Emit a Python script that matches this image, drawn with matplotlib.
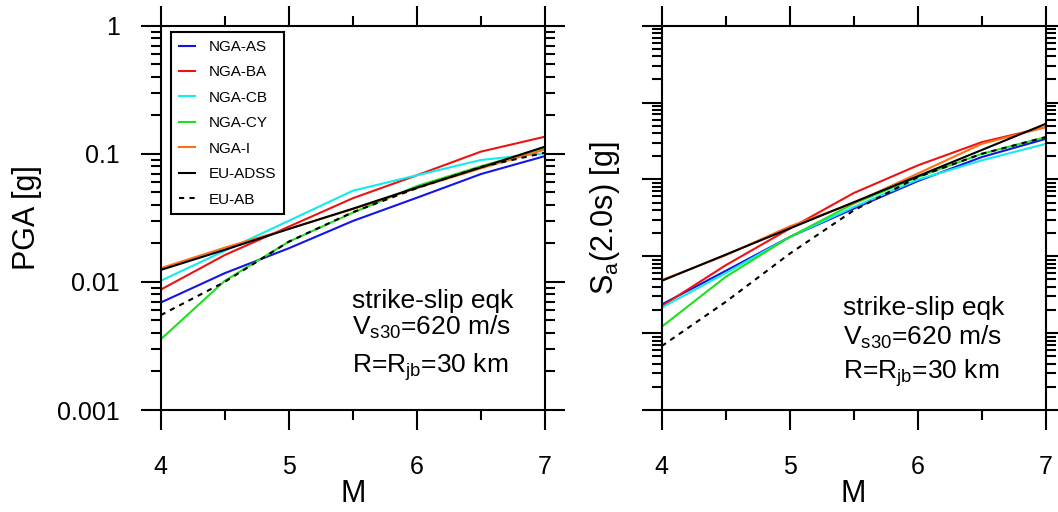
import matplotlib
matplotlib.use('Agg')

import matplotlib.pyplot as plt
import numpy as np
from matplotlib.ticker import LogLocator, FixedLocator, NullFormatter

plt.rcParams['font.family'] = ['Liberation Sans', 'DejaVu Sans']
plt.rcParams['mathtext.fontset'] = 'custom'
plt.rcParams['mathtext.rm'] = 'Liberation Sans'
plt.rcParams['mathtext.it'] = 'Liberation Sans:italic'

# magnitudes
mags = [4, 4.5, 5, 5.5, 6, 6.5, 7]
models = ['NGA-AS', 'NGA-BA', 'NGA-CB', 'NGA-CY', 'NGA-I', 'EU-ADSS', 'EU-AB']
colors = ['#1414e6', '#eb1414', '#14ebeb', '#1ee11e', '#ff6e14', 'black', 'black']
styles = ['-', '-', '-', '-', '-', '-', (0, (2.5, 2.5))]

# PGA [g], Rjb = 30 km
pga_as = [0.0069, 0.0117, 0.0183, 0.0299, 0.0454, 0.0695, 0.096]
pga_ba = [0.0087, 0.0162, 0.027, 0.045, 0.068, 0.104, 0.136]
pga_cb = [0.0102, 0.0175, 0.030, 0.0515, 0.068, 0.0895, 0.101]
pga_cy = [0.00356, 0.0102, 0.0206, 0.0347, 0.056, 0.080, 0.110]
pga_i = [0.0128, 0.0185, 0.026, 0.037, 0.054, 0.077, 0.108]
pga_adss = [0.0124, 0.0178, 0.0259, 0.0373, 0.0545, 0.0783, 0.1137]
pga_ab = [0.0055, 0.010, 0.0206, 0.035, 0.054, 0.079, 0.102]

# Sa(2.0s) [g], Rjb = 30 km
sa_as = [0.000236, 0.000646, 0.00178, 0.00416, 0.0095, 0.0195, 0.0337]
sa_ba = [0.000224, 0.000764, 0.00229, 0.00664, 0.0152, 0.0305, 0.0479]
sa_cb = [0.000215, 0.000603, 0.00178, 0.00437, 0.0099, 0.0177, 0.029]
sa_cy = [0.000121, 0.00054, 0.00178, 0.00483, 0.0107, 0.0215, 0.0355]
sa_i = [0.00049, 0.00103, 0.00245, 0.00492, 0.0119, 0.029, 0.0479]
sa_adss = [0.000479, 0.00105, 0.0023, 0.00504, 0.011, 0.0241, 0.0528]
sa_ab = [0.0000678, 0.000255, 0.00108, 0.00395, 0.0107, 0.0215, 0.0355]

pga = [pga_as, pga_ba, pga_cb, pga_cy, pga_i, pga_adss, pga_ab]
sa = [sa_as, sa_ba, sa_cb, sa_cy, sa_i, sa_adss, sa_ab]

fig = plt.figure(figsize=(10.58, 5.12), dpi=100)
ax1 = fig.add_axes([0.1519, 0.1992, 0.3632, 0.7506])
ax2 = fig.add_axes([0.6254, 0.1992, 0.3629, 0.7506])


def style_axis(ax, ylim):
    ax.set_yscale('log')
    ax.set_xlim(4, 7)
    ax.set_ylim(*ylim)
    ax.xaxis.set_major_locator(FixedLocator([4, 5, 6, 7]))
    ax.xaxis.set_minor_locator(FixedLocator([4.5, 5.5, 6.5]))
    ax.yaxis.set_major_locator(LogLocator(base=10, numticks=20))
    ax.yaxis.set_minor_locator(LogLocator(base=10, subs=np.arange(2, 10), numticks=20))
    ax.yaxis.set_minor_formatter(NullFormatter())
    ax.tick_params(which='both', direction='out', top=True, right=True,
                   width=1.5, color='black', labelsize=18, pad=15)
    ax.tick_params(axis='x', pad=18)
    ax.tick_params(which='major', length=14.4)
    ax.tick_params(which='minor', length=7.2)
    for sp in ax.spines.values():
        sp.set_linewidth(1.5)
    ax.set_xlabel('M', fontsize=22)
    ax.xaxis.set_label_coords(0.5, -0.18)


for vals, lab, c, ls in zip(pga, models, colors, styles):
    ax1.plot(mags, vals, color=c, linestyle=ls, lw=1.5, label=lab)
style_axis(ax1, (0.001, 1))
ax1.set_yticks([0.001, 0.01, 0.1, 1])
ax1.set_yticklabels(['0.001', '0.01', '0.1', '1'])
ax1.set_ylabel('PGA [g]', fontsize=22)
ax1.yaxis.set_label_coords(-0.31, 0.5)

leg = ax1.legend(loc='upper left', bbox_to_anchor=(0.0268, 0.983), borderaxespad=0,
                 fontsize=11, fancybox=False, framealpha=1, edgecolor='black',
                 handlelength=1.1, handletextpad=0.9, labelspacing=0.75,
                 borderpad=0.5)
leg.get_frame().set_linewidth(1.5)
for h in leg.get_lines():
    h.set_linewidth(1.5)

for vals, lab, c, ls in zip(sa, models, colors, styles):
    ax2.plot(mags, vals, color=c, linestyle=ls, lw=1.5, label=lab)
style_axis(ax2, (1e-5, 1))
ax2.tick_params(which='both', labelleft=False)
ax2.set_ylabel(r'S$_\mathrm{a}$(2.0s) [g]', fontsize=22)
ax2.yaxis.set_label_coords(-0.104, 0.5)

# annotations
ax1.text(0.498, 0.2646, 'strike-slip eqk', transform=ax1.transAxes, fontsize=19, va='baseline')
ax1.text(0.498, 0.195, r'V$_\mathrm{s30}$=620 m/s', transform=ax1.transAxes, fontsize=19, va='baseline')
ax1.text(0.498, 0.097, r'R=R$_\mathrm{jb}$=30 km', transform=ax1.transAxes, fontsize=19, va='baseline')

ax2.text(0.473, 0.247, 'strike-slip eqk', transform=ax2.transAxes, fontsize=19, va='baseline')
ax2.text(0.473, 0.169, r'V$_\mathrm{s30}$=620 m/s', transform=ax2.transAxes, fontsize=19, va='baseline')
ax2.text(0.473, 0.0825, r'R=R$_\mathrm{jb}$=30 km', transform=ax2.transAxes, fontsize=19, va='baseline')

fig.savefig('out.png', dpi=100)
plt.close(fig)
